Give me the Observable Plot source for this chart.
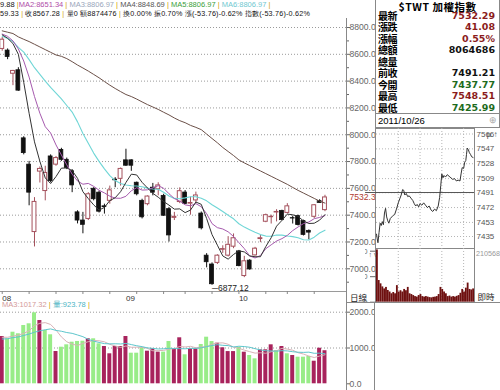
<!DOCTYPE html>
<html><head><meta charset="utf-8">
<script src="https://cdn.jsdelivr.net/npm/d3@7"></script>
<script src="https://cdn.jsdelivr.net/npm/@observablehq/plot@0.6"></script>
<style>
html,body{margin:0;padding:0;background:#fff;}
#root{position:relative;width:500px;height:390px;overflow:hidden;background:#fff;font-family:"Liberation Sans",Arial,sans-serif;}
.a{position:absolute;}
.hdr{left:1px;font-size:7.5px;white-space:nowrap;color:#111;line-height:9px;}
.sep{color:#d0a000;}
.lab{position:absolute;left:2px;font:bold 10px "Noto Sans CJK TC";line-height:12px;letter-spacing:-0.5px;color:#000;}
.val{position:absolute;right:4px;font:bold 9.5px "DejaVu Sans";line-height:12px;}
</style></head>
<body><div id="root"></div>
<script>
// ---------- daily candles (Aug 1 - Oct 26, 2011) ----------
const opens  = [8640,8628,8455,8481,7973,7777,7274,7725,7580,7838,
 7777,7887,7813,7728,7421,7360,7372,7597,7568,7466,
 7507,7665,7671,7809,7809,7642,7507,7482,7605,7593,
 7544,7445,7380,7498,7569,7486,7510,7412,7098,7032,
 7044,7142,7098,7165,7130,6946,7061,7100,7222,7351,
 7385,7420,7432,7417,7378,7393,7356,7283,7388,7505,7437.77];
const highs  = [8725,8640,8480,8500,7985,7801,7531,7760,7765,7850,
 7838,7899,7826,7740,7433,7421,7568,7605,7580,7482,
 7617,7680,7752,7892,7813,7647,7519,7544,7637,7642,
 7556,7458,7421,7604,7584,7535,7572,7424,7113,7044,
 7105,7172,7240,7260,7137,7093,7068,7160,7250,7408,
 7400,7441,7437,7486,7393,7400,7363,7290,7479,7515,7548.51];
const lows   = [8623,8560,8366,8324,7850,7470,7163,7640,7507,7642,
 7765,7801,7740,7568,7335,7261,7360,7507,7416,7408,
 7482,7605,7617,7764,7727,7544,7372,7470,7544,7544,
 7391,7200,7360,7486,7481,7400,7486,7290,7007,6877.12,
 7032,7115,7088,7150,7015,6934,6990,7095,7195,7344,
 7334,7350,7358,7408,7334,7319,7245,7216,7375,7491,7425.99];
const closes = [8709,8580,8476,8329,7863,7568,7499,7745,7715,7654,
 7826,7813,7752,7622,7360,7328,7556,7519,7426,7460,
 7585,7660,7745,7769,7769,7556,7384,7539,7568,7622,
 7396,7249,7388,7579,7484,7491,7547,7302,7049,6885,
 7098,7147,7179,7228,7020,7056,6995,7150,7228,7400,
 7388,7424,7363,7466,7375,7326,7253,7270,7474,7491.21,7532.29];
// moving averages as drawn
const ma5  = [8745,8720,8680,8600,8391,8160,7947,7801,7678,7636,
 7688,7751,7752,7733,7675,7575,7524,7477,7438,7458,
 7509,7530,7575,7644,7706,7700,7645,7603,7563,7534,
 7502,7475,7445,7447,7419,7438,7498,7481,7375,7255,
 7176,7096,7072,7107,7134,7126,7096,7090,7090,7166,
 7232,7318,7361,7408,7403,7391,7357,7338,7340,7363,7404];
const ma10 = [8751,8734,8700,8640,8550,8430,8285,8160,8060,8013,
 7924,7849,7776,7706,7655,7631,7637,7615,7586,7566,
 7542,7527,7526,7541,7582,7605,7587,7589,7604,7620,
 7601,7560,7524,7505,7477,7470,7486,7463,7411,7337,
 7307,7297,7276,7241,7195,7151,7096,7081,7099,7150,
 7179,7207,7225,7249,7285,7312,7337,7349,7374,7383,7397];
const ma20 = [8735,8718,8695,8652,8616,8560,8500,8450,8400,8353,
 8310,8267,8218,8169,8096,8010,7936,7863,7801,7745,
 7695,7658,7636,7625,7619,7618,7612,7602,7595,7593,
 7571,7543,7525,7523,7529,7537,7537,7526,7507,7478,
 7454,7428,7400,7373,7336,7311,7291,7272,7255,7244,
 7243,7252,7251,7245,7240,7231,7217,7215,7236,7267,7288];
const ma60 = [8775,8765,8755,8730,8712,8695,8675,8655,8635,8615,
 8595,8585,8568,8545,8520,8498,8475,8450,8425,8397,
 8370,8345,8322,8300,8285,8266,8245,8225,8207,8189,
 8168,8148,8125,8105,8090,8070,8055,8038,8005,7972,
 7940,7905,7875,7845,7812,7790,7770,7750,7730,7710,
 7690,7670,7650,7630,7607,7585,7565,7545,7525,7505,7490];
// volume (億)
const volumes = [1321,1257,1441,1397,1628,1676,1983,1768,1489,1369,
 902,1022,1089,1162,1182,1190,1257,1257,1117,1042,
 838,1042,1042,1321,855,855,1006,911,978,885,
 885,1182,978,1285,810,978,978,1098,1302,1180,
 1134,1006,900,900,1015,883,790,698,950,950,
 1089,930,1042,838,790,743,743,763,631,994,924];
const volUp = [1,0,0,0,0,0,0,1,0,0, 1,0,0,0,0,0,1,0,0,1,
 1,1,1,1,0,0,0,1,1,1, 0,0,1,1,0,1,1,0,0,0,
 1,1,1,1,0,1,0,0,1,1, 1,0,1,0,1,0,0,0,1,1,1];
const volMa5 = [1300,1300,1330,1360,1409,1480,1625,1690,1709,1657,
 1502,1310,1174,1109,1071,1129,1176,1210,1201,1173,
 1102,1059,1016,1057,1020,1023,1016,990,921,927,
 933,968,982,1043,1028,1047,1006,1030,1033,1107,
 1138,1144,1104,1024,991,941,898,857,867,854,
 895,923,992,970,938,869,831,775,734,775,811];
const volMa10 = [1250,1260,1290,1310,1350,1390,1440,1480,1510,1533,
 1491,1468,1432,1409,1364,1316,1243,1192,1155,1122,
 1116,1118,1113,1129,1096,1063,1038,1003,989,973,
 978,992,986,982,978,990,987,1006,1038,1068,
 1093,1075,1067,1029,1049,1040,1021,981,946,923,
 918,911,925,919,896,882,877,884,852,856,840];
const priceTicks = [7000,7200,7400,7600,7800,8000,8200,8400,8600,8800];
const minorTicks = [6900,7100,7300,7500,7700,7900,8100,8300,8500,8700];
const volTicks = [0,1000,2000];
const monthLabels = ["08","09","10"];
const monthStartIdx = [1,24,45];
const weekStartIdx = [1,6,11,16,21,26,31,35,40,45,50,54,59];
const lowLabel = {n:40, v:6877.12, text:"6877.12"};

// ---------- quote panel ----------
const quoteTitle = "$TWT 加權指數";
const quoteLabels = ["最新","漲跌","漲幅","總額","總量","前收","今開","最高","最低"];
const quoteValues = ["7532.29","41.08","0.55%","8064686","","7491.21","7437.77","7548.51","7425.99"];
const quoteColors = ["#8b1c1c","#8b1c1c","#8b1c1c","#111","#111","#111","#1d6b1d","#8b1c1c","#1d6b1d"];
const quoteDate = "2011/10/26";

// ---------- intraday (minutes after 09:00) ----------
const intradayMin = [0,2,4,7,10,13,16,19,22,25,28,31,34,38,42,46,50,55,60,64,
 68,72,75,78,82,86,90,95,100,104,108,112,116,120,125,130,135,140,145,150,
 155,160,165,170,174,177,180,183,186,190,195,200,205,210,215,220,225,230,233,236,
 240,243,246,248,250,253,256,259,262,266];
const intradayPrice = [7438,7432,7427,7440,7452,7449,7454,7450,7465,7471,7460,7455,7452,7458,7460,7462,7463,7470,7478,7483,
 7488,7495,7494,7488,7490,7486,7487,7484,7481,7477,7474,7476,7473,7477,7475,7478,7475,7472,7474,7469,
 7467,7470,7468,7474,7485,7500,7515,7510,7513,7511,7514,7512,7510,7508,7509,7506,7507,7506,7515,7523,
 7522,7530,7532,7540,7548,7546,7542,7540,7537,7536];
const intradayVolMin = [0,5,10,15,20,25,30,35,40,45,50,55,60,65,70,75,80,85,90,95,
 100,105,110,115,120,125,130,135,140,145,150,155,160,165,170,175,180,185,190,195,
 200,205,210,215,220,225,230,235,240,245,250,255,260,265];
const intradayVol = [205000,85000,72000,60000,52000,58000,46000,40000,33000,38000,
 33000,65000,40000,45000,40000,50000,45000,58000,33000,30000,
 26000,22000,20000,26000,30000,22000,20000,22000,20000,18000,
 17000,19000,20000,22000,30000,58000,50000,40000,33000,22000,
 24000,20000,22000,20000,23000,26000,35000,50000,40000,55000,
 75000,50000,48000,52000];
const intradayTicks = [7435,7453,7472,7491,7509,7528,7547,7566];
const intradayVolMax = 210568;
const prevClose = 7491.21;
const hourTicks = [60,120,180,240];

// ---------- build ----------
const root = document.getElementById("root");
function box(left, top, w, h, css) {
  const d = document.createElement("div");
  d.className = "a";
  d.style.cssText = `left:${left}px;top:${top}px;width:${w}px;height:${h}px;` + (css||"");
  root.appendChild(d); return d;
}
function put(node, left, top, w, h) {
  const d = box(left, top, w, h, "overflow:hidden;");
  d.appendChild(node); return d;
}

const candles = closes.map((c,i)=>({n:i+1,o:opens[i],h:highs[i],l:lows[i],c}));
const upC = candles.filter(d=>d.c>=d.o), dnC = candles.filter(d=>d.c<d.o);
const maRows = closes.map((_,i)=>({n:i+1,ma5:ma5[i],ma10:ma10[i],ma20:ma20[i],ma60:ma60[i]}));
const volRows = volumes.map((v,i)=>({n:i+1,v,up:volUp[i]===1,m5:volMa5[i],m10:volMa10[i]}));
const UP="#a4505c", DOWN="#111", BW=0.36;
const XD=[0.68,65];
const baseStyle = {background:"transparent", fontFamily:"Liberation Sans", fontSize:"8.6px", color:"#666", overflow:"visible"};

// header lines
const h1 = box(0, 0, 346, 9, ""); h1.className="a hdr";
h1.innerHTML = '9.88 <span class="sep">|</span><span style="color:#b04ca8">MA2:8651.34</span><span class="sep"> |</span> <span style="color:#9aa6bb">MA3:8806.97</span><span class="sep"> |</span> <span style="color:#555">MA4:8848.69</span><span class="sep"> |</span> <span style="color:#3aa03a">MA5:8806.97</span><span class="sep"> |</span> <span style="color:#70c8d0">MA6:8806.97</span><span class="sep"> |</span>';
const h2 = box(0, 9, 346, 9, "font-size:7.2px;letter-spacing:0.2px;"); h2.className="a hdr";
h2.innerHTML = '59.33<span class="sep"> |</span> 收8567.28<span class="sep"> |</span> 量0 額8874476<span class="sep"> |</span> 換0.00% 振0.70% 漲(-53.76)-0.62% 指數(-53.76)-0.62%';

const volPlot = Plot.plot({
  width:375, height:99, marginLeft:0, marginRight:29, marginTop:0, marginBottom:0,
  x:{domain:XD, axis:null},
  y:{domain:[0,2000], range:[92.3,20.7]},
  style:baseStyle,
  marks:[
    Plot.ruleY(volTicks.filter(v=>v>0),{stroke:"#9a9a9a", strokeDasharray:"1,2"}),
    Plot.rect(volRows.filter(d=>d.up),{x1:d=>d.n-0.37, x2:d=>d.n+0.37, y1:0, y2:"v", fill:"#a8235c"}),
    Plot.rect(volRows.filter(d=>!d.up),{x1:d=>d.n-0.37, x2:d=>d.n+0.37, y1:0, y2:"v", fill:"#98ec88"}),
    Plot.line(volRows,{x:"n", y:"m5", stroke:"#d9b3b8", strokeWidth:1}),
    Plot.line(volRows,{x:"n", y:"m10", stroke:"#5ec6cc", strokeWidth:1}),
    Plot.ruleX([XD[1]],{stroke:"#888"}),
    Plot.axisY(volTicks,{anchor:"right", tickSize:3, tickPadding:0, tickFormat:d=>d.toFixed(1)}),
    Plot.text(monthLabels,{x:(d,i)=>monthStartIdx[i], frameAnchor:"top", text:d=>d, dy:3.5, textAnchor:"start", fill:"#333", fontSize:8})
  ]
});
put(volPlot, 0, 291, 375, 99);

const pricePlot = Plot.plot({
  width:375, height:282, marginLeft:0, marginRight:29, marginTop:0, marginBottom:0,
  x:{domain:XD, axis:null},
  y:{domain:[7000,8800], range:[250.3,9]},
  style:baseStyle,
  marks:[
    Plot.ruleY(priceTicks,{stroke:"#9a9a9a", strokeDasharray:"1,2"}),
    Plot.ruleX(dnC,{x:"n", y1:"l", y2:"h", stroke:DOWN}),
    Plot.ruleX(upC,{x:"n", y1:"l", y2:"h", stroke:UP}),
    Plot.rect(dnC,{x1:d=>d.n-BW, x2:d=>d.n+BW, y1:"o", y2:"c", fill:DOWN, stroke:DOWN, strokeWidth:0.8}),
    Plot.rect(upC,{x1:d=>d.n-BW, x2:d=>d.n+BW, y1:"o", y2:"c", fill:"#fff", stroke:UP, strokeWidth:1}),
    Plot.line(maRows,{x:"n", y:"ma60", stroke:"#6b5048", strokeWidth:1}),
    Plot.line(maRows,{x:"n", y:"ma20", stroke:"#6fd6d6", strokeWidth:1.1}),
    Plot.line(maRows,{x:"n", y:"ma10", stroke:"#a65aae", strokeWidth:1}),
    Plot.line(maRows,{x:"n", y:"ma5", stroke:"#333", strokeWidth:1}),
    Plot.ruleX([XD[1]],{stroke:"#888"}),
    Plot.axisY(priceTicks,{anchor:"right", tickSize:3, tickPadding:0, tickFormat:d=>d.toFixed(1)}),
    Plot.axisY(minorTicks,{anchor:"right", tickSize:2, tickFormat:()=>""}),
    Plot.text([closes[closes.length-1]],{x:XD[1], y:d=>d, text:d=>d.toFixed(1), dx:3, textAnchor:"start", fill:"#b03a2e"}),
    Plot.text([lowLabel],{x:"n", y:"v", text:d=>"─"+d.text, dy:3, textAnchor:"start", fill:"#222", fontSize:8.5})
  ]
});
put(pricePlot, 0, 18, 375, 282);

// separator + week ticks
box(0, 291, 346, 1, "background:#9a9a9a;");
const weekPlot = Plot.plot({
  width:375, height:3, margin:0, marginRight:29,
  x:{domain:XD, axis:null}, style:baseStyle,
  marks:[Plot.ruleX(weekStartIdx,{stroke:"#888"})]
});
put(weekPlot, 0, 291, 375, 3);

const vh = box(2, 300, 200, 9, ""); vh.className="a hdr";
vh.innerHTML = '<span style="color:#d49a9a">MA3:1017.32</span><span class="sep"> |</span> <span style="color:#4bb4c4">量:923.78</span><span class="sep"> |</span>';
const dl = box(350, 292, 20, 10, "font:8.5px 'Noto Sans CJK TC';line-height:10px;color:#222;");
dl.textContent = "日線";

// quote panel
const qp = box(375, 0, 123, 128, "background:#fff;border-left:1px solid #888;border-right:1px solid #888;");
const tt = document.createElement("div");
tt.style.cssText = "position:absolute;left:0;top:1px;width:123px;text-align:center;font:bold 10.5px 'Noto Sans CJK TC';line-height:11px;letter-spacing:0.5px;color:#000;";
tt.textContent = quoteTitle; qp.appendChild(tt);
quoteLabels.forEach((lab,i)=>{
  const yc = 15.5 + i*11.5;
  const l = document.createElement("div"); l.className="lab"; l.style.top=(yc-6)+"px"; l.textContent=lab; qp.appendChild(l);
  const v = document.createElement("div"); v.className="val"; v.style.top=(yc-6)+"px"; v.style.color=quoteColors[i]; v.textContent=quoteValues[i]; qp.appendChild(v);
});
const dr = document.createElement("div");
dr.style.cssText = "position:absolute;left:0;top:113px;width:123px;height:13px;border-top:1px solid #888;border-bottom:1px solid #888;font:9.5px 'Liberation Sans';line-height:13px;color:#000;";
dr.innerHTML = '<span style="margin-left:2px">'+quoteDate+'</span><span style="position:absolute;right:2px;color:#aaa;font-size:9px">⊕</span>';
qp.appendChild(dr);

// intraday frame
box(375, 128, 98, 173, "border:1px solid #888;");
box(375, 248, 99, 1, "background:#888;");
box(346, 302, 154, 1, "background:#888;");
box(374, 302, 1, 88, "background:#888;");

const intraday = intradayMin.map((t,i)=>({t,p:intradayPrice[i]}));
const ipPlot = Plot.plot({
  width:135, height:120, marginLeft:11, marginRight:26, marginTop:0, marginBottom:0,
  x:{domain:[0,270], axis:null},
  y:{domain:[7435,7566], range:[108,5.5]},
  style:{...baseStyle, fontSize:"8px", color:"#555"},
  marks:[
    Plot.ruleY(intradayTicks,{stroke:"#b5b5b5", strokeDasharray:"1,2"}),
    Plot.ruleX(hourTicks,{stroke:"#b5b5b5", strokeDasharray:"1,2"}),
    Plot.ruleY([prevClose],{x1:-30, x2:270, stroke:"#555"}),
    Plot.line(intraday,{x:"t", y:"p", stroke:"#333", strokeWidth:1}),
    Plot.axisY(intradayTicks,{anchor:"right", tickSize:0, tickPadding:2, tickFormat:d=>String(d)})
  ]
});
put(ipPlot, 365, 128, 135, 120);

const ivRows = intradayVolMin.map((t,i)=>({t,v:intradayVol[i]}));
const ivPlot = Plot.plot({
  width:135, height:54, marginLeft:11, marginRight:26, marginTop:0, marginBottom:0,
  x:{domain:[0,270], axis:null},
  y:{domain:[0,intradayVolMax], range:[53.7,0]},
  style:{...baseStyle, fontSize:"7.2px"},
  marks:[
    Plot.ruleX(hourTicks,{stroke:"#b5b5b5", strokeDasharray:"1,2"}),
    Plot.rect(ivRows,{x1:"t", x2:d=>d.t+5, y1:0, y2:"v", fill:"#6e1010"}),
    Plot.text([intradayVolMax],{x:270, y:d=>d, text:d=>String(d), dx:1.5, dy:5.5, textAnchor:"start", fill:"#999"}),
    Plot.text(["即時"],{x:270, y:0, text:d=>d, dx:3, dy:-4.5, textAnchor:"start", fill:"#222", fontFamily:"Noto Sans CJK TC", fontSize:8.5})
  ]
});
put(ivPlot, 365, 248, 135, 54);
</script>
</body></html>
